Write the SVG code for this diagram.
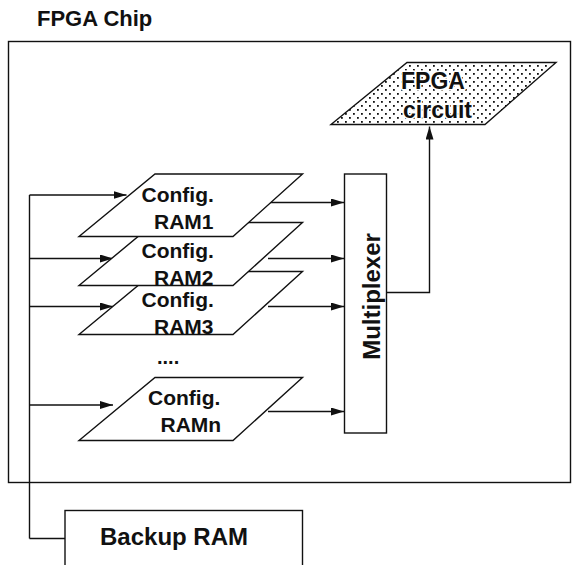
<svg xmlns="http://www.w3.org/2000/svg" width="572" height="565" viewBox="0 0 572 565">
  <defs>
    <marker id="arr" viewBox="0 0 13 8" refX="13" refY="4" markerWidth="13" markerHeight="8" markerUnits="userSpaceOnUse" orient="auto">
      <path d="M0,0 L13,4 L0,8 z" fill="#111"/>
    </marker>
    <pattern id="dots" width="8" height="8" patternUnits="userSpaceOnUse">
      <rect width="8" height="8" fill="#fff"/>
      <rect x="1" y="1" width="1.8" height="1.8" fill="#111"/>
      <rect x="5" y="5" width="1.8" height="1.8" fill="#111"/>
    </pattern>
    <style>
      .ln { fill: none; stroke: #111; stroke-width: 1.4; }
      .box { fill: #fff; stroke: #111; stroke-width: 1.4; }
      .t { font-family: "Liberation Sans", Arial, sans-serif; font-weight: bold; fill: #111; }
      .cfg { font-size: 21px; }
      .halo { stroke: #fff; stroke-width: 3; paint-order: stroke; stroke-linejoin: round; }
    </style>
  </defs>

  <text id="title" class="t" x="37" y="26" font-size="22">FPGA Chip</text>

  <g id="fpga-chip">
    <rect class="ln" x="8.5" y="41.5" width="562" height="441"/>
  </g>

  <g id="connectors">
    <path class="ln" d="M29.5,538.5 H65"/>
    <path class="ln" d="M29.5,538.5 V195"/>
    <path class="ln" d="M29.5,195 H126.5" marker-end="url(#arr)"/>
    <path class="ln" d="M29.5,258.5 H113" marker-end="url(#arr)"/>
    <path class="ln" d="M29.5,306.5 H113" marker-end="url(#arr)"/>
    <path class="ln" d="M29.5,405 H113" marker-end="url(#arr)"/>
    <path class="ln" d="M268,202.5 H344" marker-end="url(#arr)"/>
    <path class="ln" d="M268,258.5 H344" marker-end="url(#arr)"/>
    <path class="ln" d="M268,306.5 H344" marker-end="url(#arr)"/>
    <path class="ln" d="M268,411.5 H344" marker-end="url(#arr)"/>
    <path class="ln" d="M386.5,292.5 H429.5 V126.5" marker-end="url(#arr)"/>
  </g>

  <g id="fpga-circuit">
    <polygon points="407,62.5 556,62.5 485,124.5 331,124.5" fill="url(#dots)" stroke="#111" stroke-width="1.4"/>
    <text class="t halo" x="401" y="88.5" font-size="23">FPGA</text>
    <text class="t halo" x="403" y="117.5" font-size="23">circuit</text>
  </g>

  <g id="config-ramn">
    <polygon class="box" points="155,377.5 302.5,377.5 233,440.5 79,440.5"/>
    <text class="t cfg" x="148" y="405">Config.</text>
    <text class="t cfg" x="160.5" y="431.5">RAMn</text>
  </g>

  <text id="ellipsis" class="t" x="157" y="364" font-size="20">....</text>

  <g id="config-ram3">
    <polygon class="box" points="155,271.5 302.5,271.5 233,334.5 79,334.5"/>
    <text class="t cfg" x="141.5" y="306.5">Config.</text>
    <text class="t cfg" x="154" y="333.5">RAM3</text>
  </g>

  <g id="config-ram2">
    <polygon class="box" points="155,222.5 302.5,222.5 233,285.5 79,285.5"/>
    <text class="t cfg" x="141.5" y="257.5">Config.</text>
    <text class="t cfg" x="154" y="285">RAM2</text>
  </g>

  <g id="config-ram1">
    <polygon class="box" points="155,174 302.5,174 233,236.5 79,236.5"/>
    <text class="t cfg" x="141.5" y="201.5">Config.</text>
    <text class="t cfg" x="154" y="229">RAM1</text>
  </g>

  <g id="multiplexer">
    <rect class="box" x="344.5" y="174" width="42" height="259"/>
    <text class="t" transform="translate(380,296.5) rotate(-90)" text-anchor="middle" font-size="24">Multiplexer</text>
  </g>

  <g id="backup-ram">
    <rect class="box" x="65" y="510.5" width="237.5" height="70"/>
    <text class="t" x="100" y="545" font-size="24">Backup RAM</text>
  </g>
</svg>
